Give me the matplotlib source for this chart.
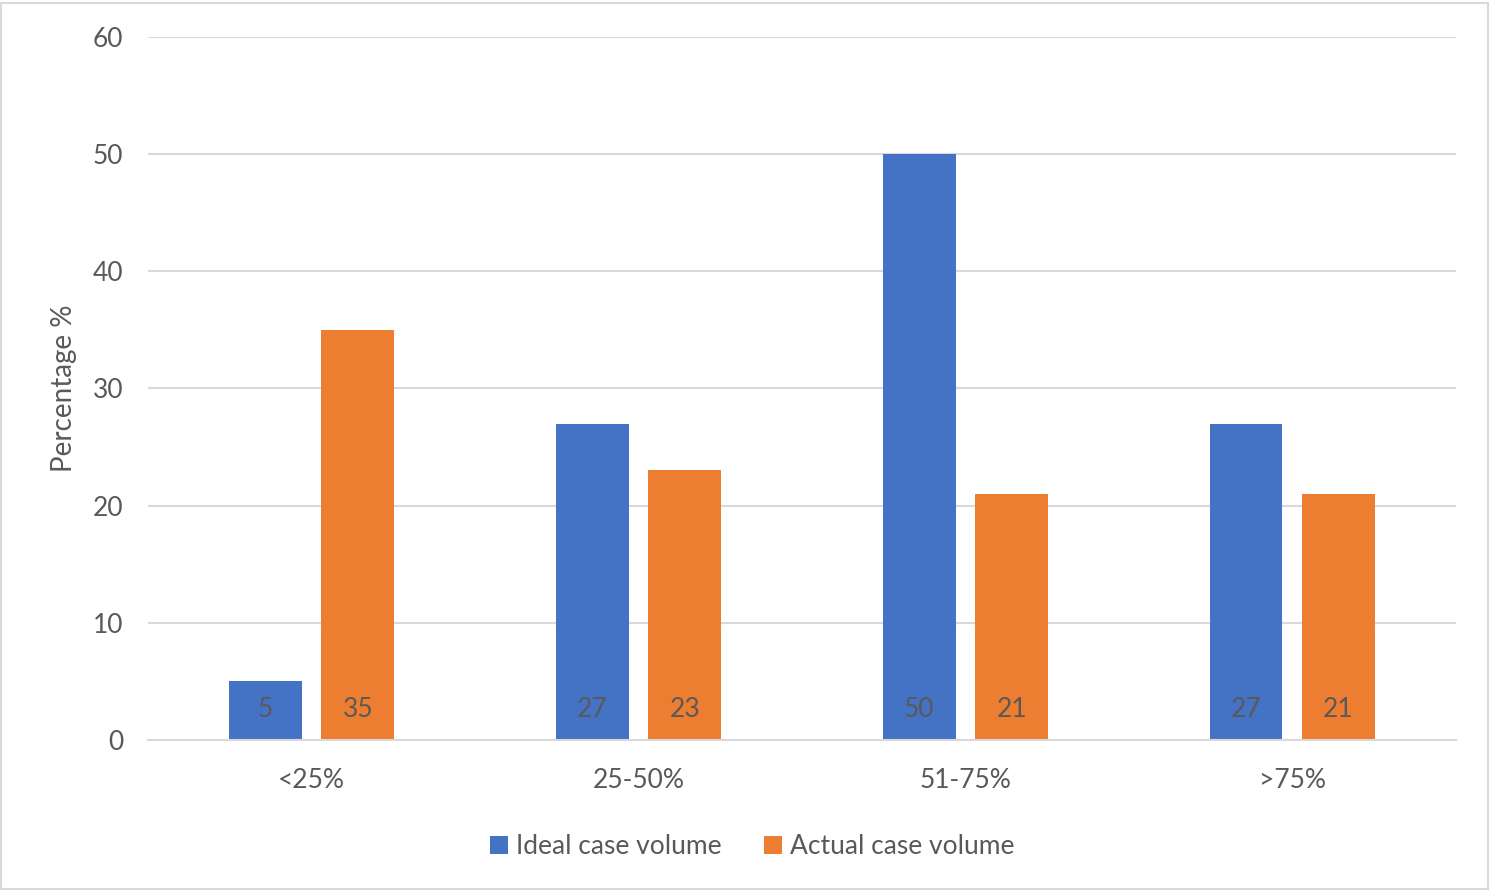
import numpy as np
import matplotlib.pyplot as plt
from matplotlib.patches import Rectangle

categories = ['<25%', '25-50%', '51-75%', '>75%']
ideal = [5, 27, 50, 27]
actual = [35, 23, 21, 21]
series_names = ['Ideal case volume', 'Actual case volume']

blue = '#4472C4'
orange = '#ED7D31'
grey_text = '#595959'
grid_col = '#D9D9D9'
fs = 19

plt.rcParams['font.family'] = ['Lato', 'DejaVu Sans']

fig = plt.figure(figsize=(14.91, 8.91), dpi=100)
ax = fig.add_axes([0.0993, 0.1695, 0.877, 0.789])

x = np.arange(len(categories))
w = 0.223
off = 0.1415
b1 = ax.bar(x - off, ideal, w, color=blue, label=series_names[0], zorder=3)
b2 = ax.bar(x + off, actual, w, color=orange, label=series_names[1], zorder=3)

# value labels sit just above the base of each bar
for bars, vals in ((b1, ideal), (b2, actual)):
    for rect, v in zip(bars, vals):
        ax.annotate(str(v), (rect.get_x() + rect.get_width() / 2, 0),
                    xytext=(0, 22), textcoords='offset points',
                    ha='center', va='center', fontsize=fs, color=grey_text, zorder=4)

ax.set_xlim(-0.5, len(categories) - 0.5)
ax.set_ylim(0, 60)
ax.set_yticks(range(0, 61, 10))
ax.set_xticks(x)
ax.set_xticklabels(categories)
ax.yaxis.grid(True, color=grid_col, linewidth=1.5, zorder=0)
ax.set_axisbelow(True)

for s in ['top', 'right', 'left']:
    ax.spines[s].set_visible(False)
ax.spines['bottom'].set_color(grid_col)
ax.spines['bottom'].set_linewidth(1.5)
ax.spines['bottom'].set_zorder(5)

ax.tick_params(axis='both', length=0, labelsize=fs, colors=grey_text)
ax.tick_params(axis='y', pad=18)
ax.tick_params(axis='x', pad=20)

ax.set_ylabel('Percentage %', fontsize=fs + 1, color=grey_text, labelpad=11)

leg = ax.legend(loc='upper center', bbox_to_anchor=(0.462, -0.1), ncol=2,
                frameon=False, fontsize=fs, handlelength=0.7, handleheight=0.7,
                handletextpad=0.3, columnspacing=1.6)
for t in leg.get_texts():
    t.set_color(grey_text)

fig.patches.append(Rectangle((0.001, 0.002), 0.997, 0.995, transform=fig.transFigure,
                             fill=False, edgecolor='#D9D9D9', linewidth=1.5))

fig.savefig('out.png', dpi=100)
